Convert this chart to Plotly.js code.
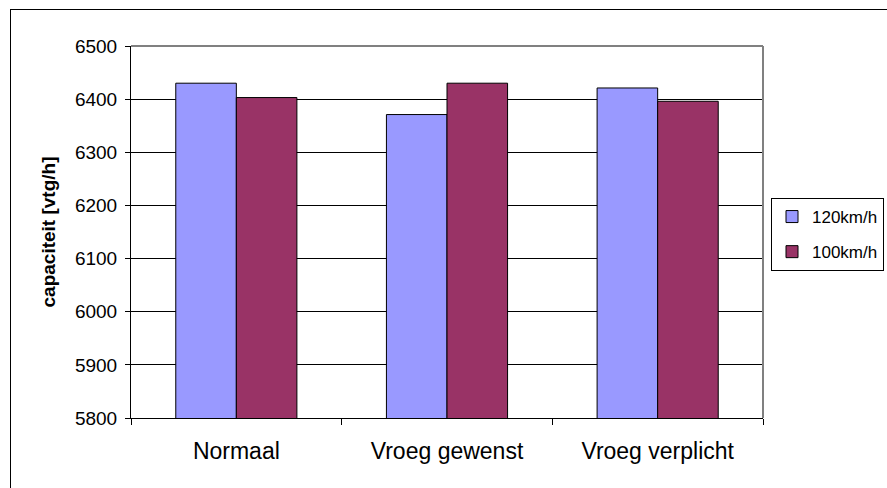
<!DOCTYPE html>
<html>
<head>
<meta charset="utf-8">
<script src="https://cdn.plot.ly/plotly-3.0.1.min.js"></script>
<style>html,body{margin:0;padding:0;background:#fff;}#chart{width:887px;height:488px;}</style>
</head>
<body>
<div id="chart"></div>
<script>
const categories = ["Normaal", "Vroeg gewenst", "Vroeg verplicht"];
const series120 = [6430, 6371, 6421];
const series100 = [6403, 6430, 6396];
const seriesNames = ["120km/h", "100km/h"];
const yTicks = [5800, 5900, 6000, 6100, 6200, 6300, 6400, 6500];

const FONT = "Liberation Sans, Arial, sans-serif";
const traces = [
  {type: "bar", x: categories, y: series120, name: seriesNames[0], legendgroup: "a",
   marker: {color: "#9999FF", line: {color: "#000", width: 1}}},
  {type: "bar", x: categories, y: series100, name: seriesNames[1], legendgroup: "b",
   marker: {color: "#993366", line: {color: "#000", width: 1}}}
];
const L = 131, R = 763, T = 46, B = 418;
const pw = R - L, ph = B - T;
const px = v => (v - L) / pw;
const py = v => 1 - (v - T) / ph;
const layout = {
  width: 887, height: 488,
  margin: {l: L, r: 887 - R, t: T, b: 488 - B, pad: 0, autoexpand: false},
  paper_bgcolor: "#fff", plot_bgcolor: "#fff",
  font: {family: FONT, size: 19, color: "#000"},
  barmode: "group", bargap: 0.425, bargroupgap: 0,
  showlegend: true,
  legend: {x: px(771), y: py(198), xanchor: "left", yanchor: "top",
    bgcolor: "#fff", bordercolor: "#000", borderwidth: 1,
    font: {family: FONT, size: 17}, traceorder: "grouped", tracegroupgap: 10,
    itemwidth: 30},
  xaxis: {type: "category", showline: true, linecolor: "#000", linewidth: 1,
    ticks: "outside", tickson: "boundaries", ticklen: 6, tickcolor: "#000",
    showgrid: false, tickfont: {family: FONT, size: 23}, ticklabelstandoff: 12,
    fixedrange: true},
  yaxis: {range: [5800, 6500], tickvals: yTicks, ticktext: yTicks.map(String),
    showline: true, linecolor: "#000", linewidth: 1,
    ticks: "outside", ticklen: 5, tickcolor: "#000",
    showgrid: true, gridcolor: "#000", gridwidth: 1, zeroline: false,
    tickfont: {family: FONT, size: 19}, ticklabelstandoff: 4,
    title: {text: "<b>capaciteit [vtg/h]</b>", font: {family: FONT, size: 19}, standoff: 14},
    fixedrange: true},
  shapes: [
    {type: "line", xref: "paper", yref: "paper", x0: 0, x1: 1, y0: 1, y1: 1, line: {color: "#808080", width: 2}},
    {type: "line", xref: "paper", yref: "paper", x0: 1, x1: 1, y0: 0, y1: 1, line: {color: "#808080", width: 2}},
    {type: "line", xref: "paper", yref: "paper", x0: px(10), x1: px(900), y0: py(9.5), y1: py(9.5), line: {color: "#000", width: 1}},
    {type: "line", xref: "paper", yref: "paper", x0: px(10.5), x1: px(10.5), y0: py(9.5), y1: py(500), line: {color: "#000", width: 1}}
  ]
};
Plotly.newPlot("chart", traces, layout, {displayModeBar: false, staticPlot: true});
</script>
</body>
</html>
